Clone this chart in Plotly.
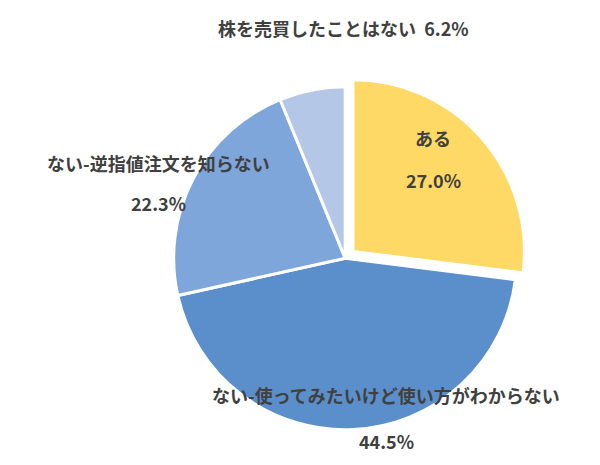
import plotly.graph_objects as go

labels = ["ある", "ない-使ってみたいけど使い方がわからない", "ない-逆指値注文を知らない", "株を売買したことはない"]
values = [27.0, 44.5, 22.3, 6.2]
colors = ["#FFD966", "#5B8FCB", "#7FA6DA", "#B4C7E7"]
pulls = [0.06, 0, 0, 0]

fig = go.Figure(go.Pie(
    labels=labels, values=values, sort=False, direction="clockwise", rotation=0,
    pull=pulls, marker=dict(colors=colors, line=dict(color="white", width=3)),
    textinfo="none", hoverinfo="label+percent", showlegend=False,
    domain=dict(x=[0.259, 0.865], y=[0.071, 0.853]),
))

font = dict(family="Noto Sans CJK JP", size=18, color="#404040")
ann = [
    (425, 130, f"<b>{labels[0]}</b>"),
    (425, 172, f"<b>{values[0]:.1f}%</b>"),
    (335, 20, f"<b>{labels[3]}  {values[3]:.1f}%</b>"),
    (150, 155, f"<b>{labels[2]}</b>"),
    (150, 195, f"<b>{values[2]:.1f}%</b>"),
    (378, 387, f"<b>{labels[1]}</b>"),
    (378, 433, f"<b>{values[1]:.1f}%</b>"),
]
for x, y, t in ann:
    fig.add_annotation(x=x / 600, y=1 - y / 465, xref="paper", yref="paper", text=t,
                       showarrow=False, font=font, xanchor="center", yanchor="middle")

fig.update_layout(width=600, height=465, margin=dict(l=0, r=0, t=0, b=0),
                  paper_bgcolor="white", plot_bgcolor="white")
fig.write_html("out.html")
